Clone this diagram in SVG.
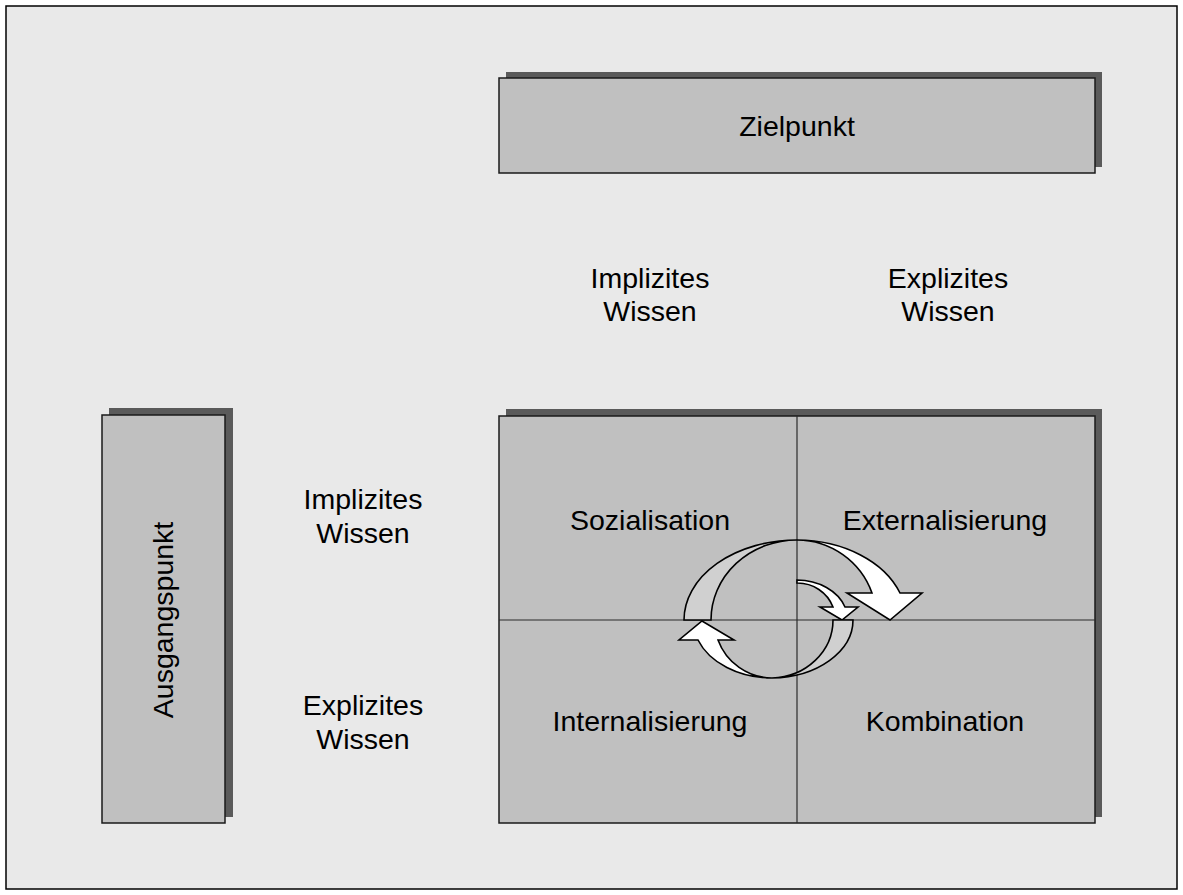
<svg xmlns="http://www.w3.org/2000/svg" width="1183" height="895" viewBox="0 0 1183 895">
<style>
text{font-family:"Liberation Sans",Arial,sans-serif;font-size:28.5px;fill:#000;text-anchor:middle}
.box{fill:#c0c0c0;stroke:#1a1a1a;stroke-width:1.5}
.sh{fill:#5a5a5a}
.div{stroke:#2a2a2a;stroke-width:1.2;fill:none}
.w{fill:#fff;stroke:#000;stroke-width:1.6;stroke-linejoin:miter}
.g{fill:#d0d0d0;stroke:#000;stroke-width:1.6}
</style>
<rect x="0" y="0" width="1183" height="895" fill="#fff"/>
<rect x="6" y="6" width="1171" height="883" fill="#e9e9e9" stroke="#000" stroke-width="1.5"/>
<g id="zielpunkt">
<rect class="sh" x="506" y="72" width="596" height="95"/>
<rect class="box" x="499" y="78" width="596" height="95"/>
<text x="797" y="136">Zielpunkt</text>
</g>
<g id="ausgangspunkt">
<rect class="sh" x="109" y="408" width="124" height="409"/>
<rect class="box" x="102" y="415" width="123" height="408"/>
<text transform="translate(173,620) rotate(-90)">Ausgangspunkt</text>
</g>
<g id="col-labels">
<text x="650" y="288">Implizites</text>
<text x="650" y="321">Wissen</text>
<text x="948" y="288">Explizites</text>
<text x="948" y="321">Wissen</text>
</g>
<g id="row-labels">
<text x="363" y="509">Implizites</text>
<text x="363" y="543">Wissen</text>
<text x="363" y="715">Explizites</text>
<text x="363" y="749">Wissen</text>
</g>
<g id="matrix">
<rect class="sh" x="506" y="409" width="596" height="408"/>
<rect class="box" x="499" y="416" width="596" height="407"/>
<line class="div" x1="797" y1="416" x2="797" y2="823"/>
<line class="div" x1="499" y1="620" x2="1095" y2="620"/>
</g>
<g id="sozialisation"><text x="650" y="530">Sozialisation</text></g>
<g id="externalisierung"><text x="945" y="530">Externalisierung</text></g>
<g id="internalisierung"><text x="650" y="731">Internalisierung</text></g>
<g id="kombination"><text x="945" y="731">Kombination</text></g>
<g id="connectors">
<path class="g" d="M684,620 A113,80 0 0 1 797,540 A86,80 0 0 0 711,620 Z"/>
<path class="w" d="M797,540 A110,80 0 0 1 900,593 L922,593 L890,620 L847,593 L872,593 A80,80 0 0 0 797,540 Z"/>
<path class="w" d="M797,580 A51,40 0 0 1 845,607 L858,607 L842,620 L820,607 L833,607 A38,37 0 0 0 797,583 Z"/>
<path class="g" d="M853,620 A83,58 0 0 1 772,678 A63,58 0 0 0 833,620 Z"/>
<path class="w" d="M772,678 A79,58 0 0 1 698,640 L679,640 L702,621 L734,640 L718,640 A58,58 0 0 0 772,678 Z"/>
</g>
</svg>
